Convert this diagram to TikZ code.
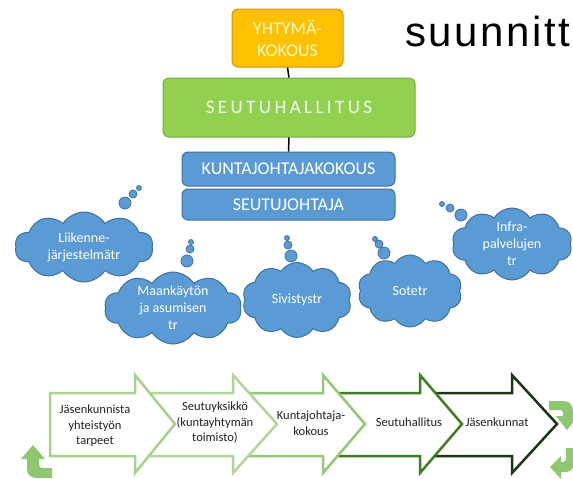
\documentclass[tikz,border=0pt]{standalone}
\usepackage{fontspec}
\usetikzlibrary{shapes.symbols}
\newfontfamily\carl{Carlito}
\newfontfamily\carlsp[LetterSpace=18]{Carlito}
\newfontfamily\lsans[LetterSpace=6]{Liberation Sans}
\definecolor{orfill}{HTML}{FFC000}
\definecolor{ordraw}{HTML}{C99A06}
\definecolor{grfill}{HTML}{92D050}
\definecolor{grdraw}{HTML}{6FAE3F}
\definecolor{blfill}{HTML}{5B9BD5}
\definecolor{bldraw}{HTML}{41719C}
\definecolor{ga}{HTML}{A9D18E}
\definecolor{gb}{HTML}{B2D69A}
\definecolor{gc}{HTML}{94C875}
\definecolor{gd}{HTML}{3E7E25}
\definecolor{ge}{HTML}{1C3512}
\definecolor{curv}{HTML}{8EC76F}
\definecolor{txt}{HTML}{222222}
\tikzset{
  boxbase/.style={rectangle, rounded corners=6pt, line width=1pt, inner sep=0pt, align=center},
  orbox/.style={boxbase, fill=orfill, draw=ordraw, text=yellow!20, font=\carl\fontsize{18}{22}\selectfont},
  grbox/.style={boxbase, fill=grfill, draw=grdraw, text=green!5, font=\carlsp\fontsize{19}{22}\selectfont},
  blbox/.style={boxbase, fill=blfill, draw=bldraw, text=white, font=\carl\fontsize{18}{22}\selectfont},
  thought/.style={cloud, cloud puffs=10, cloud puff arc=115, fill=blfill, draw=bldraw, line width=1pt, inner sep=0pt},
  cloudtext/.style={text=white, align=center, inner sep=0pt, font=\carl\fontsize{14}{17}\selectfont},
  bub/.style={circle, fill=blfill, draw=bldraw, line width=0.8pt, inner sep=0pt},
  procarrow/.style={fill=white, line width=2.5pt, line join=miter},
  proctext/.style={text=txt, align=center, font=\carl\fontsize{12.5}{15.5}\selectfont},
  link/.style={draw=black, line width=1.5pt}
}
\newcommand{\procarr}[4]{% color, left, base, tip
  \draw[procarrow, draw=#1] (#2,393) -- (#3,393) -- (#3,375) -- (#4,424) -- (#3,473) -- (#3,456) -- (#2,456) -- cycle;}
\begin{document}
\begin{tikzpicture}[x=1pt,y=-1pt]
\useasboundingbox (0,0) rectangle (573,479);
\fill[white] (0,0) rectangle (573,479);
\begin{scope}
\clip (0,0) rectangle (573,479);
% title fragment
\node[anchor=base west, inner sep=0pt, font=\lsans\fontsize{42}{50}\selectfont, text=black] (title) at (405,46) {suunnitt};

% hierarchy boxes
\node[orbox, minimum width=111pt, minimum height=58pt] (yk) at (287.5,38) {YHTYMÄ-\\KOKOUS};
\node[grbox, minimum width=252pt, minimum height=59pt] (sh) at (289,107.5) {SEUTUHALLITUS};
\node[blbox, minimum width=213pt, minimum height=34pt] (kjk) at (288.5,169) {KUNTAJOHTAJAKOKOUS};
\node[blbox, minimum width=213pt, minimum height=31pt] (sj) at (288.5,204.5) {SEUTUJOHTAJA};
\draw[link] (yk.south) -- (sh.north);
\draw[link] (sh.south) -- (kjk.north);

% thought clouds
\node[thought, minimum width=138pt, minimum height=70pt] (c1) at (84,247) {};
\node[cloudtext] (t1) at (c1.center) {Liikenne-\\järjestelmätr};
\node[bub, minimum size=12pt] (c1a) at (125,203) {};
\node[bub, minimum size=8pt] (c1b) at (133,194) {};
\node[bub, minimum size=5pt] (c1c) at (139,188) {};

\node[thought, minimum width=137pt, minimum height=72pt] (c2) at (173,308) {};
\node[cloudtext] (t2) at (c2.center) {Maankäytön\\ja asumisen\\tr};
\node[bub, minimum size=12pt] (c2a) at (187,261) {};
\node[bub, minimum size=8pt] (c2b) at (190,249) {};
\node[bub, minimum size=5pt] (c2c) at (191,242) {};

\node[thought, minimum width=109pt, minimum height=75pt] (c3) at (297,300) {};
\node[cloudtext] (t3) at (c3.center) {Sivistystr};
\node[bub, minimum size=12pt] (c3a) at (291,256) {};
\node[bub, minimum size=8pt] (c3b) at (288,245) {};
\node[bub, minimum size=5pt] (c3c) at (287,238) {};

\node[thought, minimum width=104pt, minimum height=72pt] (c4) at (410,291) {};
\node[cloudtext] (t4) at (c4.center) {Sotetr};
\node[bub, minimum size=12pt] (c4a) at (384,253) {};
\node[bub, minimum size=8pt] (c4b) at (379,244) {};
\node[bub, minimum size=5pt] (c4c) at (375,239) {};

\node[thought, minimum width=120pt, minimum height=72pt] (c5) at (512,244) {};
\node[cloudtext] (t5) at (c5.center) {Infra-\\palvelujen\\tr};
\node[bub, minimum size=12pt] (c5a) at (461,215) {};
\node[bub, minimum size=8pt] (c5b) at (450,208) {};
\node[bub, minimum size=5pt] (c5c) at (442,204) {};

% process arrows (drawn back to front)
\procarr{ge}{420}{512}{557}
\procarr{gd}{323}{420}{462}
\procarr{gc}{233}{323}{365}
\procarr{gb}{135}{233}{277}
\procarr{ga}{50}{135}{175}

\node[proctext] (p1) at (95,426) {Jäsenkunnista\\yhteistyön\\tarpeet};
\node[proctext] (p2) at (215,423) {Seutuyksikkö\\(kuntayhtymän\\toimisto)};
\node[proctext] (p3) at (311,423) {Kuntajohtaja-\\kokous};
\node[proctext] (p4) at (409,422) {Seutuhallitus};
\node[proctext] (p5) at (497,422) {Jäsenkunnat};

% cycle arrows
\fill[curv] (27,459) -- (27,469) .. controls (27,475) and (31,478) .. (38,478) -- (52,478) -- (52,468) -- (42,468) .. controls (40,468) and (39,467) .. (39,464) -- (39,459) -- (45,459) -- (33,445) -- (21,459) -- cycle;
\fill[curv] (549,401) -- (563,401) .. controls (570,401) and (573,405) .. (573,412) -- (573,416) -- (578,416) -- (567,430) -- (556,416) -- (563,416) -- (563,413) .. controls (563,411) and (562,410) .. (560,410) -- (549,410) -- cycle;
\fill[curv] (561,456) -- (550,467) -- (561,479) -- (561,472) -- (566,472) .. controls (572,472) and (575,466) .. (575,458) -- (575,448) -- (566,448) -- (566,458) .. controls (566,461) and (565,462) .. (563,462) -- (561,462) -- cycle;
\end{scope}
\end{tikzpicture}
\end{document}
